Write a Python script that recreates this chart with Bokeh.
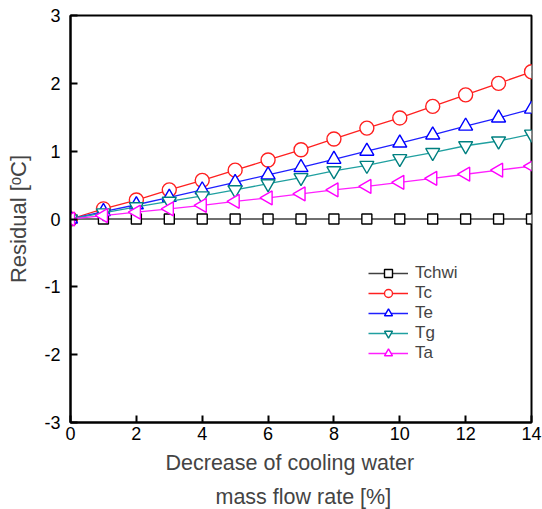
import math
from bokeh.plotting import figure
from bokeh.models import Range1d, FixedTicker, Legend, LegendItem, Title, ColumnDataSource
from bokeh.embed import file_html
from bokeh.resources import INLINE

x = [0, 1, 2, 3, 4, 5, 6, 7, 8, 9, 10, 11, 12, 13, 14]
tchwi = [0] * 15
tc = [0, 0.15, 0.28, 0.43, 0.57, 0.72, 0.87, 1.02, 1.18, 1.34, 1.49, 1.66, 1.83, 2.00, 2.17]
te = [0, 0.11, 0.21, 0.32, 0.43, 0.54, 0.65, 0.76, 0.88, 1.00, 1.12, 1.24, 1.37, 1.49, 1.62]
tg = [0, 0.09, 0.18, 0.26, 0.34, 0.43, 0.52, 0.61, 0.71, 0.79, 0.89, 0.98, 1.08, 1.15, 1.25]
ta = [0, 0.05, 0.10, 0.15, 0.20, 0.26, 0.31, 0.37, 0.43, 0.48, 0.54, 0.60, 0.66, 0.72, 0.78]
y_ticks = [-3, -2, -1, 0, 1, 2, 3]
x_ticks = [0, 2, 4, 6, 8, 10, 12, 14]

FONT = "Liberation Sans"

p = figure(frame_width=461, frame_height=407, output_backend="svg", toolbar_location=None,
           x_range=Range1d(0, 14), y_range=Range1d(-3, 3),
           min_border_left=70, min_border_right=11, min_border_top=15, min_border_bottom=87)
p.background_fill_color = "white"
p.border_fill_color = "white"
p.outline_line_color = "black"
p.outline_line_width = 2
p.grid.visible = False

for ax in (p.xaxis[0], p.yaxis[0]):
    ax.axis_line_width = 2
    ax.axis_line_color = "black"
    ax.major_tick_in = 7
    ax.major_tick_out = 0
    ax.major_tick_line_width = 2
    ax.minor_tick_line_color = None
    ax.major_label_text_font = FONT
    ax.major_label_text_font_size = "18px"
    ax.major_label_text_color = "black"

p.xaxis.ticker = FixedTicker(ticks=x_ticks)
p.yaxis.ticker = FixedTicker(ticks=y_ticks)
p.yaxis.major_label_overrides = {t: str(t) for t in y_ticks}
p.xaxis.major_label_overrides = {t: str(t) for t in x_ticks}
p.xaxis.major_label_standoff = 4
p.yaxis.major_label_standoff = 10

p.yaxis.axis_label = "Residual [\u1d52C]"
p.yaxis.axis_label_text_font = FONT
p.yaxis.axis_label_text_font_size = "22px"
p.yaxis.axis_label_text_font_style = "normal"
p.yaxis.axis_label_standoff = 10

t1 = Title(text="Decrease of cooling water", align="left", offset=95,
           text_font=FONT, text_font_size="21.5px", text_font_style="normal", standoff=13)
t2 = Title(text="mass flow rate [%]", align="left", offset=145,
           text_font=FONT, text_font_size="21.5px", text_font_style="normal", standoff=2)
p.add_layout(t1, "below")
p.add_layout(t2, "below")

series = [
    ("Tchwi", tchwi, "#404040", "#000000", "square", 10, 0.0),
    ("Tc", tc, "#ff2020", "#ff2020", "circle", 14, 0.0),
    ("Te", te, "#2020ff", "#0000ff", "triangle", 14, 0.0),
    ("Tg", tg, "#20a0a0", "#008080", "inverted_triangle", 14, 0.0),
    ("Ta", ta, "#ff20ff", "#ff00ff", "triangle", 14, math.pi / 2),
]

items = []
for name, ys, lc, mc, marker, size, ang in series:
    src = ColumnDataSource(dict(x=x, y=ys, a=[ang] * len(x)))
    l = p.line("x", "y", source=src, line_color=lc, line_width=1.3)
    s = p.scatter("x", "y", source=src, marker=marker, size=size, angle="a",
                  line_color=mc, fill_color="white", line_width=1.4)
    items.append(LegendItem(label=name, renderers=[l, s]))

legend = Legend(items=items, location=(298, 59), glyph_width=40, glyph_height=20,
                label_height=20, spacing=0, padding=0, margin=0,
                label_text_font=FONT, label_text_font_size="17px",
                label_standoff=7,
                border_line_color=None, background_fill_alpha=0)
p.add_layout(legend, "center")

open("out.html", "w").write(file_html(p, INLINE))
